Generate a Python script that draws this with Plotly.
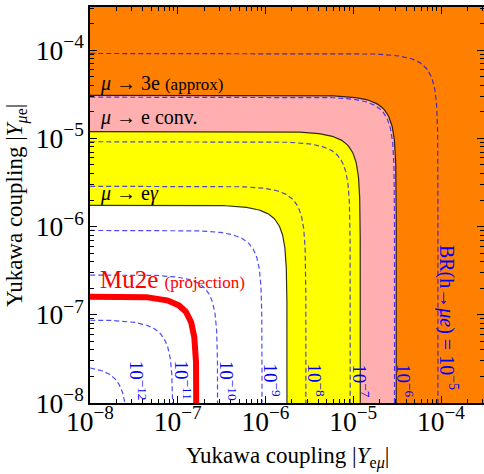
import numpy as np
import plotly.graph_objects as go

# ---------------- data ----------------
x_range_log = [-8, -3.51]
y_range_log = [-8, -3.51]

# radii sqrt(|Y_emu|^2 + |Y_mue|^2) of the excluded regions
bound_names = ["μ → 3e", "μ → e conv.", "μ → eγ"]
bound_radius = [10 ** -4.51, 10 ** -4.92, 10 ** -5.755]

mu2e_radius = 10 ** -6.785

# BR(h -> mu e) contour levels and their radii
br_levels = [1e-12, 1e-11, 1e-10, 1e-9, 1e-8, 1e-7, 1e-6, 1e-5]
br_radius = [10 ** -7.57, 10 ** -7.055, 10 ** -6.545, 10 ** -6.04,
             10 ** -5.54, 10 ** -5.035, 10 ** -4.53, 10 ** -4.035]
br_labels = ["10<sup>−12</sup>", "10<sup>−11</sup>", "10<sup>−10</sup>",
             "10<sup>−9</sup>", "10<sup>−8</sup>", "10<sup>−7</sup>",
             "10<sup>−6</sup>", "BR(h→<i>μe</i>) = 10<sup>−5</sup>"]

# ---------------- styles ----------------
ORANGE = "#FF7F00"
region_fill = ["#FFAFAF", "#FFFF00", "#FFFFFF"]
FONT = "Liberation Serif"
LO = 1e-9


def quarter_circle(r, lo=LO, n=220):
    a = np.logspace(np.log10(lo), np.log10(r / np.sqrt(2)), n)
    x1, y1 = a, np.sqrt(r ** 2 - a ** 2)
    y2 = a[::-1]
    x2 = np.sqrt(r ** 2 - y2 ** 2)
    return np.concatenate([x1, x2]), np.concatenate([y1, y2])


fig = go.Figure()

# filled regions
for r, col in zip(bound_radius, region_fill):
    x, y = quarter_circle(r)
    fig.add_trace(go.Scatter(x=np.r_[LO, x], y=np.r_[LO, y], mode="lines",
                             fill="toself", fillcolor=col,
                             line=dict(width=0), hoverinfo="skip",
                             showlegend=False))

# BR contours
for r in br_radius:
    x, y = quarter_circle(r)
    fig.add_trace(go.Scatter(x=x, y=y, mode="lines",
                             line=dict(color="rgba(0,0,255,0.7)", width=1.2,
                                       dash="5px,3px"),
                             hoverinfo="skip", showlegend=False))

# boundary lines
for r in bound_radius:
    x, y = quarter_circle(r)
    fig.add_trace(go.Scatter(x=x, y=y, mode="lines",
                             line=dict(color="rgba(0,0,0,0.8)", width=1.2),
                             hoverinfo="skip", showlegend=False))

# Mu2e projection
x, y = quarter_circle(mu2e_radius)
fig.add_trace(go.Scatter(x=x, y=y, mode="lines",
                         line=dict(color="#FF0000", width=6),
                         hoverinfo="skip", showlegend=False))

axis_common = dict(
    type="log", showgrid=False, zeroline=False, automargin=False,
    showline=True, linecolor="black", linewidth=1.5, mirror="allticks",
    ticks="inside", ticklen=7, tickwidth=1, tickcolor="black",
    dtick=1, exponentformat="power", showexponent="all",
    tickfont=dict(family=FONT, size=22, color="black"),
    minor=dict(ticks="inside", ticklen=4, tickcolor="black", dtick="D1",
               showgrid=False),
)

fig.update_layout(
    template="none",
    width=484, height=474,
    margin=dict(l=90, r=0, t=7, b=71),
    plot_bgcolor=ORANGE, paper_bgcolor="white",
    font=dict(family=FONT, color="black"),
    xaxis=dict(range=x_range_log, ticklabelstandoff=-6, **axis_common),
    yaxis=dict(range=y_range_log, **axis_common),
)

ann = []
# region labels
ann.append(dict(xref="paper", yref="paper", x=0.02, y=0.808, xanchor="left",
                yanchor="middle", showarrow=False,
                text="<i>μ</i> → 3e <span style='font-size:17px'>(approx)</span>",
                font=dict(size=20, color="black", family=FONT)))
ann.append(dict(xref="paper", yref="paper", x=0.02, y=0.722, xanchor="left",
                yanchor="middle", showarrow=False,
                text="<i>μ</i> → e conv.",
                font=dict(size=20, color="black", family=FONT)))
ann.append(dict(xref="paper", yref="paper", x=0.02, y=0.530, xanchor="left",
                yanchor="middle", showarrow=False,
                text="<i>μ</i> → e<i>γ</i>",
                font=dict(size=20, color="black", family=FONT)))
ann.append(dict(xref="paper", yref="paper", x=0.02, y=0.311, xanchor="left",
                yanchor="middle", showarrow=False,
                text="Mu2e <span style='font-size:17px'>(projection)</span>",
                font=dict(size=25, color="#FF0000", family=FONT)))

# contour labels
for r, lab in zip(br_radius, br_labels):
    is_last = lab.startswith("BR")
    ann.append(dict(xref="x", yref="paper", x=np.log10(r),
                    y=0.215 if is_last else 0.057,
                    xanchor="center", yanchor="middle", xshift=10,
                    showarrow=False, textangle=90, text=lab,
                    font=dict(size=20 if is_last else 19, color="#0000FF",
                              family=FONT)))

# axis titles
ann.append(dict(xref="paper", yref="paper", x=0.5, y=-0.137, xanchor="center",
                yanchor="middle", showarrow=False,
                text="Yukawa coupling |<i>Y</i><sub>e<i>μ</i></sub>|",
                font=dict(size=23, color="black", family=FONT)))
ann.append(dict(xref="paper", yref="paper", x=-0.188, y=0.5, xanchor="center",
                yanchor="middle", showarrow=False, textangle=-90,
                text="Yukawa coupling |<i>Y</i><sub><i>μ</i>e</sub>|",
                font=dict(size=23, color="black", family=FONT)))

fig.update_layout(annotations=ann)
fig.write_html(
    "out.html",
    config={"responsive": False, "displayModeBar": False},
    post_script="document.body.style.margin='0';"
                "document.body.style.overflow='hidden';",
)
